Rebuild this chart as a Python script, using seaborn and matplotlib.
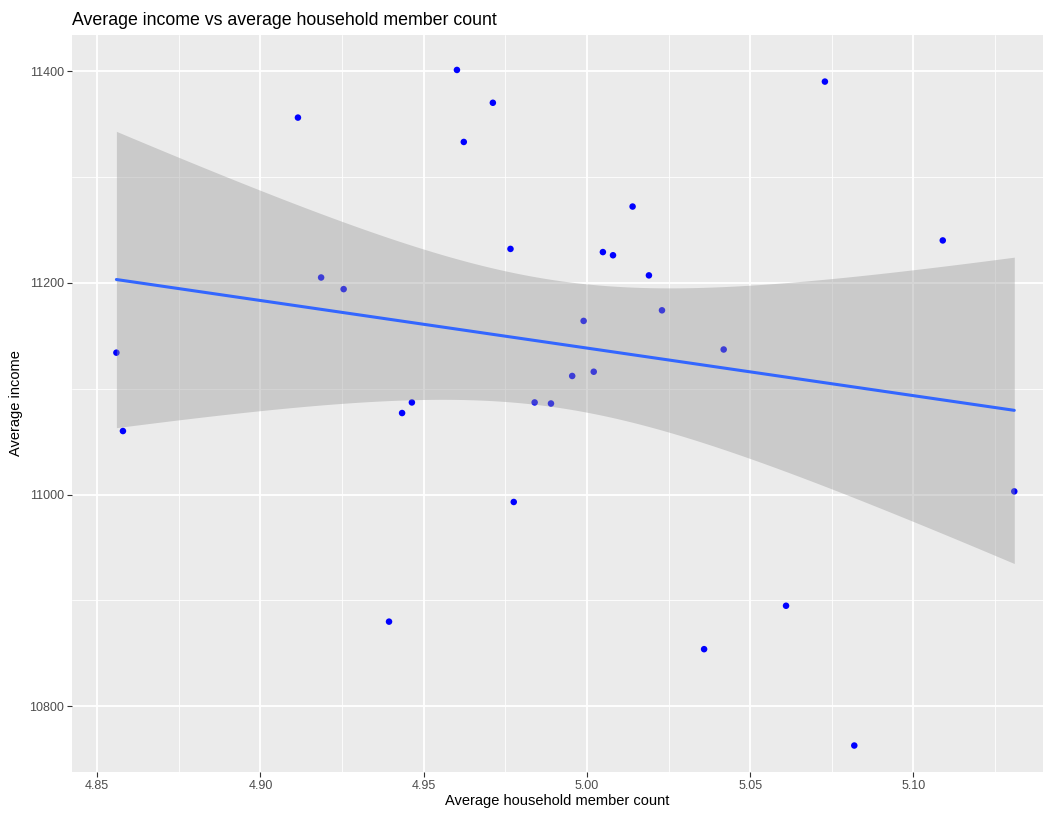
import numpy as np
import pandas as pd
import matplotlib
matplotlib.use("Agg")
import matplotlib.pyplot as plt
import seaborn as sns
from matplotlib.ticker import MultipleLocator

# data
household = [4.8559, 4.8579, 4.9115, 4.9186, 4.9255, 4.9394, 4.9434, 4.9464,
             4.9602, 4.9623, 4.9712, 4.9766, 4.9776, 4.9840, 4.9890, 4.9955,
             4.9990, 5.0021, 5.0049, 5.0080, 5.0140, 5.0190, 5.0230, 5.0359,
             5.0419, 5.0610, 5.0729, 5.0819, 5.1090, 5.1309]
income = [11134, 11060, 11356, 11205, 11194, 10880, 11077, 11087,
          11401, 11333, 11370, 11232, 10993, 11087, 11086, 11112,
          11164, 11116, 11229, 11226, 11272, 11207, 11174, 10854,
          11137, 10895, 11390, 10763, 11240, 11003]

x_ticks = [4.85, 4.90, 4.95, 5.00, 5.05, 5.10]
x_tick_labels = ["4.85", "4.90", "4.95", "5.00", "5.05", "5.10"]
y_ticks = [10800, 11000, 11200, 11400]

df = pd.DataFrame({"household": household, "income": income})

# analytic 95% band of the linear fit (like geom_smooth(method="lm"))
xv = np.array(household)
yv = np.array(income)
n = len(xv)
slope, inter = np.polyfit(xv, yv, 1)
resid = yv - (inter + slope * xv)
s_err = np.sqrt(np.sum(resid ** 2) / (n - 2))
grid = np.linspace(xv.min(), xv.max(), 200)
fit = inter + slope * grid
se = s_err * np.sqrt(1 / n + (grid - xv.mean()) ** 2 / np.sum((xv - xv.mean()) ** 2))
t_crit = 2.048  # t(0.975, df=28)

sns.set_style("darkgrid")
plt.rcParams['font.family'] = ['Liberation Sans', 'DejaVu Sans']

fig = plt.figure(figsize=(10.45, 8.18), dpi=100)
ax = fig.add_axes([72 / 1045, 1 - 772 / 818, (1043 - 72) / 1045, (772 - 35) / 818])
ax.set_facecolor("#EBEBEB")

# points first, ribbon on top (like ggplot)
sns.scatterplot(data=df, x="household", y="income", color="blue", s=22,
                edgecolor="none", ax=ax, zorder=3)

ax.fill_between(grid, fit - t_crit * se, fit + t_crit * se,
                color="#999999", alpha=0.4, linewidth=0, zorder=4)

# fitted line
sns.regplot(data=df, x="household", y="income", scatter=False, ci=None,
            color="#3366FF", line_kws={"linewidth": 2.2, "zorder": 5},
            truncate=True, ax=ax)

ax.set_xlim(4.8423, 5.1397)
ax.set_ylim(10738, 11434)
ax.set_xticks(x_ticks)
ax.set_xticklabels(x_tick_labels)
ax.set_yticks(y_ticks)
ax.xaxis.set_minor_locator(MultipleLocator(0.025))
ax.yaxis.set_minor_locator(MultipleLocator(100))

ax.grid(which="major", color="white", linewidth=1.3)
ax.grid(which="minor", color="white", linewidth=0.6)
ax.set_axisbelow(True)
for sp in ax.spines.values():
    sp.set_visible(False)

ax.tick_params(axis="both", which="major", bottom=True, left=True, length=3.5,
               width=0.8, color="#333333", labelsize=9, labelcolor="#4D4D4D", pad=2)
ax.tick_params(axis="both", which="minor", length=0)

ax.set_xlabel("Average household member count", fontsize=10.5, color="black", labelpad=2)
ax.set_ylabel("Average income", fontsize=10.5, color="black", labelpad=5)
ax.set_title("Average income vs average household member count", fontsize=12.8,
             loc="left", pad=7, color="black")

fig.savefig("out.png", dpi=100)
